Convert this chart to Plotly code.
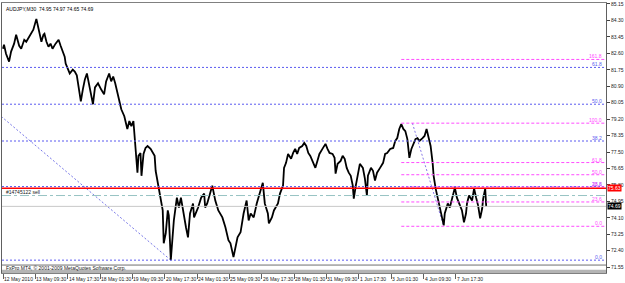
import plotly.graph_objects as go

# ---- price path (trading hours since 12 May 2010, price) ----
hours = [0, 1, 3, 6, 8, 11, 13, 16, 18, 21, 23, 26, 28, 30, 33, 35, 38, 40, 41, 43, 45, 47, 49, 52, 55, 57, 59, 61, 62, 64,
         66, 69, 71, 73, 75, 77, 79, 81, 83, 85, 87, 89, 91, 94, 97, 100, 102, 105, 107, 109, 111, 113, 115, 117,
         120, 121, 123, 125, 127, 129, 130, 131, 132, 133, 134, 136, 137, 139, 141, 143, 146, 148, 150, 151, 153, 154, 156,
         158, 159, 161, 163, 164, 166, 168, 169, 172, 174, 176, 179, 181, 183, 185, 188, 189, 193, 196, 199, 200, 202, 205, 207, 210,
         213, 217, 220, 223, 225, 228, 230, 232, 235, 238, 241, 243, 245, 248, 251, 254, 257, 259, 262, 263, 266, 268, 272, 274, 277,
         278, 280, 282, 285, 287, 289, 291, 293, 296, 298, 300, 302, 304, 307, 309, 311, 313, 316, 319, 321, 323, 326, 328, 329, 331,
         334, 336, 338, 340, 342, 344, 346, 347, 349, 351, 353, 356, 358, 360, 361, 364, 366, 368, 370, 373, 376, 378, 380, 383, 386,
         388, 390, 392, 394,
         396, 398, 400, 402, 404, 406, 408, 410, 412, 415, 417, 419, 420, 422, 423, 425, 426, 428, 430, 431, 433, 435, 436, 437, 439,
         440, 442, 444, 445, 447, 449, 451, 454, 456, 458, 459, 461, 464, 466, 468, 470, 472, 474, 475, 477, 478]
prices = [82.84, 83.05, 82.58, 82.17, 82.69, 83.10, 83.56, 82.99, 82.84, 83.30, 83.20, 83.46, 83.61, 83.82, 84.38, 83.97, 83.20, 83.56, 83.61, 83.20,
          82.94, 83.10, 82.84, 83.10, 83.30, 82.99, 82.69, 82.43, 82.07, 81.76,
          81.56, 81.76, 81.66, 81.46, 80.89, 80.12, 80.74, 81.25, 81.56, 81.05, 80.63, 79.97, 80.84, 81.05, 80.74, 80.48, 81.15, 81.56, 81.15, 81.40,
          81.05, 80.63, 80.12, 79.71,
          79.35, 79.10, 78.69, 79.10, 78.84, 79.10, 78.43, 77.97, 76.94, 76.43, 77.30, 77.45, 76.27, 77.40, 77.71, 77.81, 77.66, 77.45, 77.30, 76.53,
          75.91, 75.66, 74.99,
          74.48, 72.78, 73.30, 74.48, 74.22, 71.91, 73.30, 73.96, 75.14, 74.63, 75.14, 74.12, 73.61, 73.09, 74.32, 74.84, 74.12, 74.63, 75.14, 75.35,
          74.63, 74.84, 75.35, 75.76, 74.99,
          74.48, 74.12, 73.61, 72.94, 72.78, 72.07, 72.58, 73.09, 73.35, 74.32, 74.99, 73.96, 74.32, 74.12, 74.84, 75.35, 75.91, 74.84, 74.32, 73.81,
          74.12, 74.48, 74.84, 75.35, 75.76,
          76.68, 76.94, 77.40, 77.15, 77.45, 77.66, 77.40, 77.71, 77.81, 77.97, 77.81, 77.45, 77.30, 76.94, 76.68, 77.04, 77.40, 77.66, 77.92, 77.66,
          77.45, 77.40, 77.20, 76.38, 76.89,
          77.04, 77.30, 77.15, 76.68, 76.43, 76.27, 75.76, 75.09, 75.76, 76.43, 76.89, 76.68, 76.12, 75.25, 76.27, 76.68, 76.53, 76.02, 76.43, 76.68,
          76.94, 77.40, 77.45, 77.66, 77.71,
          78.07, 78.22, 78.69, 78.94,
          78.69, 78.58, 78.17, 77.20, 77.66, 77.97, 78.17, 78.22, 78.07, 78.22, 78.33, 78.69, 78.43, 78.07, 77.81, 76.94, 76.27, 75.61, 75.14, 74.84,
          74.48, 73.96, 73.71, 74.32, 74.63,
          74.84, 74.63, 74.99, 75.25, 75.66, 75.14, 74.89, 74.48, 73.86, 74.32, 74.84, 75.25, 74.99, 75.61, 75.14, 74.73, 74.07, 74.58, 75.09, 75.61,
          74.69]

x_tick_vals = [0, 32, 64, 96, 128, 160, 192, 224, 256, 288, 320, 352, 384, 416, 448]
x_tick_text = ["12 May 2010", "13 May 09:30", "14 May 17:30", "18 May 01:30", "19 May 09:30", "20 May 17:30",
               "24 May 01:30", "25 May 09:30", "26 May 17:30", "28 May 01:30", "31 May 09:30", "1 Jun 17:30",
               "3 Jun 01:30", "4 Jun 09:30", "7 Jun 17:30"]
y_tick_vals = [85.15, 84.30, 83.45, 82.60, 81.75, 80.90, 80.05, 79.20, 78.35, 77.50, 76.65, 75.80, 74.95,
               74.10, 73.25, 72.40, 71.55]
y_tick_text = ["85.15", "84.30", "83.45", "82.60", "81.75", "80.90", "80.05", "79.20", "78.35", "77.50", "76.65",
               "75.80", "74.95", "74.10", "73.25", "72.40", "71.55"]

# ---- Fibonacci objects ----
fib_levels_blue = [0.0, 23.6, 38.2, 50.0, 61.8, 100.0]
blue_low, blue_high = 71.91, 88.03
blue_t_high, blue_t_low = -198, 166
fib_levels_pink = [0.0, 23.6, 38.2, 50.0, 61.8, 100.0, 161.8]
pink_low, pink_high = 73.66, 78.99
pink_t_start, pink_t_high, pink_t_low = 394, 405, 436

sl_price = 75.63
order_price = 75.25
bid_price = 74.69
title_text = "AUDJPY,M30  74.95 74.97 74.65 74.69"
order_text = "#14745122 sell"
copyright_text = "FxPro MT4, \u00a9 2001-2009 MetaQuotes Software Corp."

X_RANGE = [-0.99, 596.5]
Y_RANGE = [71.246, 85.201]

BLUE = "#5a5af0"
PINK = "#ff4cff"
FONT = "Liberation Sans"

fig = go.Figure()

shapes = []
annotations = []

# blue fib levels (full width)
for lv in fib_levels_blue:
    p = blue_low + (blue_high - blue_low) * lv / 100.0
    shapes.append(dict(type="line", xref="x", yref="y", x0=X_RANGE[0], x1=X_RANGE[1], y0=p, y1=p,
                       line=dict(color=BLUE, width=1, dash="2px,2px")))
    if Y_RANGE[0] < p < Y_RANGE[1]:
        annotations.append(dict(x=0.997, xref="paper", y=p, yref="y", text="%.1f" % lv, showarrow=False,
                                xanchor="right", yanchor="bottom", yshift=-2,
                                font=dict(size=5, color=BLUE, family=FONT)))
# blue trend line
fig.add_trace(go.Scatter(x=[blue_t_high, blue_t_low], y=[blue_high, blue_low], mode="lines",
                         line=dict(color="#7878e8", width=1, dash="2px,2px"), hoverinfo="skip", showlegend=False))

# pink fib levels
for lv in fib_levels_pink:
    p = pink_low + (pink_high - pink_low) * lv / 100.0
    shapes.append(dict(type="line", xref="x", yref="y", x0=pink_t_start, x1=X_RANGE[1], y0=p, y1=p,
                       line=dict(color=PINK, width=1, dash="3px,2px")))
    annotations.append(dict(x=0.997, xref="paper", y=p, yref="y", text="%.1f" % lv, showarrow=False,
                            xanchor="right", yanchor="bottom", yshift=-2,
                            font=dict(size=5, color=PINK, family=FONT)))
fig.add_trace(go.Scatter(x=[pink_t_high, pink_t_low], y=[pink_high, pink_low], mode="lines",
                         line=dict(color="#8878e8", width=1, dash="2px,2px"), hoverinfo="skip", showlegend=False))

# order / SL / bid lines
shapes.append(dict(type="line", xref="x", yref="y", x0=X_RANGE[0], x1=X_RANGE[1], y0=order_price, y1=order_price,
                   line=dict(color="#98c4c4", width=1, dash="dashdot")))
shapes.append(dict(type="line", xref="x", yref="y", x0=X_RANGE[0], x1=X_RANGE[1], y0=bid_price, y1=bid_price,
                   line=dict(color="#c8c8c8", width=1)))
shapes.append(dict(type="line", xref="x", yref="y", x0=X_RANGE[0], x1=X_RANGE[1], y0=sl_price, y1=sl_price,
                   line=dict(color="#ff0000", width=1.5)))

# price path
fig.add_trace(go.Scatter(x=hours, y=prices, mode="lines", line=dict(color="#000000", width=1.8),
                         hoverinfo="skip", showlegend=False))

# bottom status band
shapes.append(dict(type="line", xref="paper", yref="paper", x0=0, x1=1, y0=0.0294, y1=0.0294,
                   line=dict(color="#707070", width=1)))
shapes.append(dict(type="rect", xref="paper", yref="paper", x0=0, x1=1, y0=0.0, y1=0.0125,
                   fillcolor="#b4b4b4", line=dict(width=0)))
annotations.append(dict(x=0.003, xref="paper", y=0.019, yref="paper", text=copyright_text, showarrow=False,
                        xanchor="left", yanchor="middle", font=dict(size=5, color="#202020", family=FONT)))

# x tick labels (left aligned at the tick)
for tv, tt in zip(x_tick_vals, x_tick_text):
    annotations.append(dict(x=tv, xref="x", y=0, yref="paper", text=tt, showarrow=False, xanchor="left",
                            yanchor="top", xshift=-1, yshift=-1, font=dict(size=5, color="#202020", family=FONT)))

# title & order text
annotations.append(dict(x=0.004, xref="paper", y=1, yref="paper", text=title_text, showarrow=False,
                        xanchor="left", yanchor="top", yshift=-1, font=dict(size=5, color="#000000", family=FONT)))
annotations.append(dict(x=0.003, xref="paper", y=order_price, yref="y", text=order_text, showarrow=False,
                        xanchor="left", yanchor="bottom", yshift=-1, font=dict(size=5, color="#202020", family=FONT)))

# price labels on axis
annotations.append(dict(x=1, xref="paper", y=sl_price, yref="y", text="75.63", showarrow=False, xanchor="left",
                        yanchor="middle", xshift=1, bgcolor="#ff0000", borderpad=0,
                        font=dict(size=5, color="#ffffff", family=FONT)))
annotations.append(dict(x=1, xref="paper", y=bid_price, yref="y", text="74.69", showarrow=False, xanchor="left",
                        yanchor="middle", xshift=1, bgcolor="#000000", borderpad=0,
                        font=dict(size=5, color="#ffffff", family=FONT)))

fig.update_layout(
    width=625, height=283,
    margin=dict(l=1, r=19, t=1, b=10),
    paper_bgcolor="#ffffff", plot_bgcolor="#ffffff",
    shapes=shapes, annotations=annotations, showlegend=False,
    xaxis=dict(range=X_RANGE, tickvals=x_tick_vals, showticklabels=False, ticks="outside", ticklen=5,
               tickcolor="#606060", showgrid=False, zeroline=False, showline=True, linecolor="#808080",
               mirror=True, fixedrange=True),
    yaxis=dict(range=Y_RANGE, side="right", tickvals=y_tick_vals, ticktext=y_tick_text, ticks="outside",
               ticklen=3, tickcolor="#404040", tickfont=dict(size=5, color="#202020", family=FONT),
               ticklabeloverflow="allow",
               showgrid=False, zeroline=False, showline=True, linecolor="#606060", mirror=True,
               fixedrange=True),
)

fig.write_html("out.html")
